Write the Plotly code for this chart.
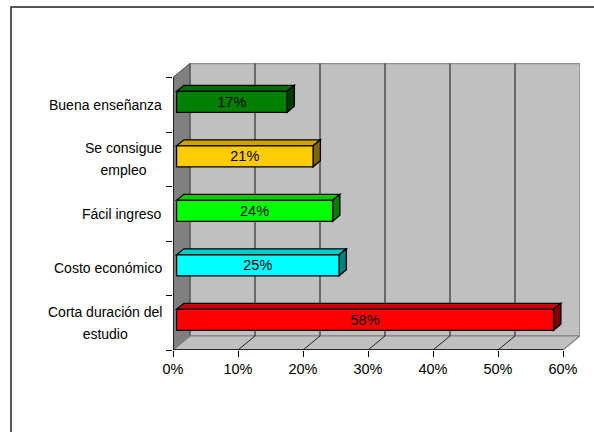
import plotly.graph_objects as go

# Survey answers, listed bottom to top as drawn
categories = ["Corta duración del<br>estudio", "Costo económico", "Fácil ingreso",
              "Se consigue<br>empleo", "Buena enseñanza"]
values = [58, 25, 24, 21, 17]
front_colors = ["#FF0000", "#00FFFF", "#00FF00", "#FFCC00", "#008000"]
top_colors = ["#CC0000", "#00CCCC", "#00CC00", "#CCA300", "#006C00"]
side_colors = ["#800000", "#008080", "#008000", "#806600", "#003C00"]
tick_values = [0, 10, 20, 30, 40, 50, 60]
tick_labels = ["0%", "10%", "20%", "30%", "40%", "50%", "60%"]

FONT = "Liberation Sans, Arial, sans-serif"
W, H = 594, 432
ML, MR, MT, MB = 173, 14, 63, 82

XMAX = 60
px_per_x = 6.5           # pixels per percentage point on the front plane
px_per_cat = 54.5        # pixels per category band on the front plane
DEPTH_PX_X, DEPTH_PX_Y = 17, 14
dxd = DEPTH_PX_X / px_per_x      # full depth offset in x data units
dyd = DEPTH_PX_Y / px_per_cat    # full depth offset in y data units

x_range = [0, (W - ML - MR) / px_per_x]
y_lo = -0.5
y_range = [y_lo, y_lo + (H - MT - MB) / px_per_cat]
n = len(categories)
y_hi = y_lo + n

t1, t2 = 0.21, 0.64      # bar front / back depth
bar_w = 0.385


def path(points):
    return "M " + " L ".join(f"{x},{y}" for x, y in points) + " Z"


shapes = []


def add(shape):
    shape.setdefault("xref", "x")
    shape.setdefault("yref", "y")
    shape.setdefault("layer", "below")
    shapes.append(shape)


# back wall
add(dict(type="path", path=path([(dxd, y_lo + dyd), (XMAX + dxd, y_lo + dyd),
                                  (XMAX + dxd, y_hi + dyd), (dxd, y_hi + dyd)]),
         fillcolor="#C0C0C0", line=dict(color="#8C8C8C", width=1.5)))
# left side wall
add(dict(type="path", path=path([(0, y_lo), (dxd, y_lo + dyd), (dxd, y_hi + dyd), (0, y_hi)]),
         fillcolor="#808080", line=dict(color="#404040", width=1)))
# floor
add(dict(type="path", path=path([(0, y_lo), (XMAX, y_lo), (XMAX + dxd, y_lo + dyd), (dxd, y_lo + dyd)]),
         fillcolor="#C0C0C0", line=dict(color="#808080", width=1.2)))

# gridlines on the back wall and the floor
for v in tick_values[1:-1]:
    add(dict(type="line", x0=v + dxd, x1=v + dxd, y0=y_lo + dyd, y1=y_hi + dyd,
             line=dict(color="#303030", width=1.2)))
    add(dict(type="line", x0=v, x1=v + dxd, y0=y_lo, y1=y_lo + dyd,
             line=dict(color="#202020", width=1)))

# front axis edges
add(dict(type="line", x0=0, x1=XMAX, y0=y_lo, y1=y_lo, line=dict(color="black", width=1.3)))
add(dict(type="line", x0=0, x1=0, y0=y_lo, y1=y_hi, line=dict(color="black", width=1.3)))

# top and side faces of each bar
ddx, ddy = (t2 - t1) * dxd, (t2 - t1) * dyd
bar_y = [i + t1 * dyd for i in range(n)]
for i, v in enumerate(values):
    x0 = t1 * dxd
    x1 = x0 + v
    yt = bar_y[i] + bar_w / 2
    yb = bar_y[i] - bar_w / 2
    add(dict(type="path", path=path([(x0, yt), (x1, yt), (x1 + ddx, yt + ddy), (x0 + ddx, yt + ddy)]),
             fillcolor=top_colors[i], line=dict(color="black", width=1.3)))
    add(dict(type="path", path=path([(x1, yb), (x1, yt), (x1 + ddx, yt + ddy), (x1 + ddx, yb + ddy)]),
             fillcolor=side_colors[i], line=dict(color="black", width=1.3)))

# outer chart frame
def px_to_paper_x(px):
    return (px - ML) / (W - ML - MR)


def px_to_paper_y(py):
    return (H - MB - py) / (H - MT - MB)


shapes.append(dict(type="rect", xref="paper", yref="paper", layer="above",
                   x0=px_to_paper_x(11), x1=px_to_paper_x(610),
                   y0=px_to_paper_y(450), y1=px_to_paper_y(7),
                   line=dict(color="#222222", width=1.5), fillcolor="rgba(0,0,0,0)"))

fig = go.Figure()
fig.add_trace(go.Bar(
    orientation="h",
    x=values,
    y=bar_y,
    base=[t1 * dxd] * n,
    width=bar_w,
    marker=dict(color=front_colors, line=dict(color="black", width=1.3)),
    text=[f"{v}%" for v in values],
    textposition="inside",
    insidetextanchor="middle",
    textangle=0,
    constraintext="none",
    textfont=dict(family=FONT, size=14.5, color="black"),
    hoverinfo="skip",
))

# category labels: the annotation font size sets the line pitch,
# each line is rendered at the smaller label size
LABEL_SIZE = 14
annotations = []
for i, c in enumerate(categories):
    text = "<br>".join(f'<span style="font-size:{LABEL_SIZE}px">{line}</span>'
                       for line in c.split("<br>"))
    annotations.append(dict(x=0, y=i, xref="x", yref="y", text=text, showarrow=False,
                            xanchor="right", yanchor="middle", xshift=-9, align="center",
                            font=dict(family=FONT, size=16.9, color="black")))

fig.update_layout(
    width=W, height=H,
    margin=dict(l=ML, r=MR, t=MT, b=MB),
    paper_bgcolor="white", plot_bgcolor="white",
    showlegend=False,
    shapes=shapes,
    annotations=annotations,
    xaxis=dict(range=x_range, tickvals=tick_values, ticktext=tick_labels,
               ticks="outside", ticklen=6, tickcolor="black", tickwidth=1,
               showgrid=False, zeroline=False, showline=False, fixedrange=True,
               tickfont=dict(family=FONT, size=14.5, color="black")),
    yaxis=dict(range=y_range, tickvals=[y_lo + k for k in range(n + 1)],
               showticklabels=False, ticks="outside", ticklen=6, tickcolor="black",
               showgrid=False, zeroline=False, showline=False, fixedrange=True),
)

fig.write_html("out.html")
